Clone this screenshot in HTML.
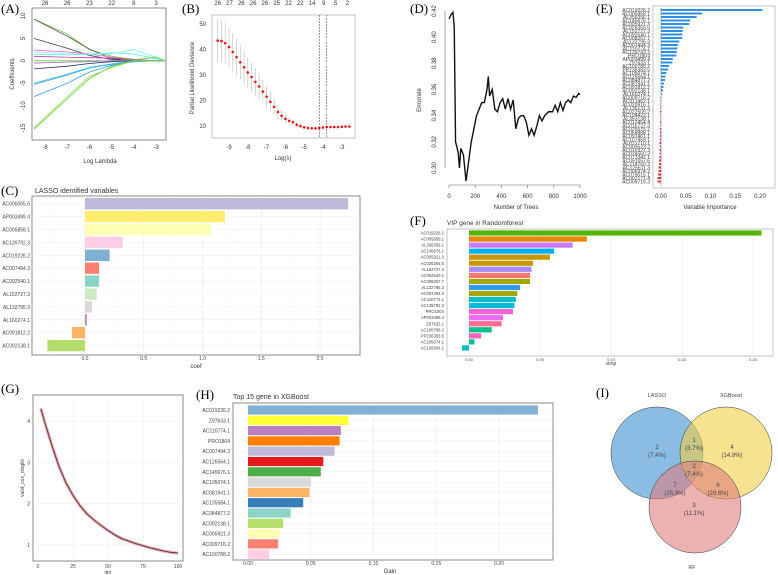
<!DOCTYPE html>
<html><head><meta charset="utf-8"><style>
body{margin:0;background:#fff}
svg{display:block;font-family:"Liberation Sans",sans-serif}
.pl{font-family:"Liberation Serif",serif;font-size:13px}
.t{font-size:5px;fill:#444}
.ax{font-size:6px;fill:#333}
</style></head><body>
<svg id="s" width="778" height="575" viewBox="0 0 778 575">
<g id="gA"></g>
<g id="gB"></g>
<g id="gD"></g>
<g id="gE"></g>
<g id="gC"></g>
<g id="gF"></g>
<g id="gG"></g>
<g id="gH"></g>
<g id="gI"></g>
</svg>
<script>
// ---------- data ----------
const aLambda=[-8.5,-7,-6,-5,-4,-3,-2.6];
const aPaths=[[9.3,6,2.5,1,0.3,0,0],[9.3,5.5,2.6,0.5,0,0,0],[5,2.8,1.2,0.3,0,0,0],[2.4,2,1.5,0.8,0.2,0,0],[2,1.6,1.4,1.6,2.5,0.8,0],[1.5,1.3,1.5,1.8,1.5,0.5,0],[1,0.8,0.7,0.6,0.3,0,0],[0,0,0,0,0.2,0.8,0],[-0.5,-0.3,-0.2,0,0,0,0],[-1.8,-1.2,-0.6,-0.2,0,0,0],[-5.3,-3.2,-1.6,-0.8,0,0,0],[-5,-3,-1.5,-0.7,0,0,0],[-8,-5,-2.5,-1,-0.2,0,0],[-15.3,-8.5,-4,-1.2,0,0,0],[-15,-8,-3.5,-1.5,0,0,0]];
const aColors=["#66cc33","#555555","#444444","#ff66cc","#66ffff","#66eeee","#cc33aa","#66cc33","#aa66cc","#223366","#33aadd","#33bbee","#3399ff","#66cc33","#88dd55"];
const aTop=["26","26","23","22","8","3"];
const bLambda=[-9.6,-9.4,-9.2,-9,-8.8,-8.6,-8.4,-8.2,-8,-7.8,-7.6,-7.4,-7.2,-7,-6.8,-6.6,-6.4,-6.2,-6,-5.8,-5.6,-5.4,-5.2,-5,-4.8,-4.6,-4.4,-4.2,-4,-3.8,-3.6,-3.4,-3.2,-3,-2.8,-2.6];
const bMean=[43.5,43.3,42.5,41,39,37,35,33,31,29.2,27.3,25.5,23.5,21.5,19.5,17.5,15.5,14,12.8,12,11.5,10.5,10,9.5,9.2,9.1,9.1,9.2,9.4,9.6,9.6,9.6,9.6,9.7,9.8,9.8];
const bSd=[8.5,8.3,8,7.8,7.5,7.2,6.8,6.5,6,5.7,5.3,5,4.6,4.2,3.8,3.3,2.8,2.3,1.8,1.4,1.1,0.9,0.7,0.6,0.5,0.5,0.5,0.5,0.5,0.5,0.5,0.5,0.5,0.5,0.5,0.5];
const bTop=["26","27","26","26","26","25","22","22","14","9","5","2"];
const dTrees=[0,20,30,40,50,70,80,90,110,130,150,170,190,210,230,250,270,290,300,310,330,350,370,390,410,430,450,470,490,510,530,550,570,590,610,630,650,670,690,710,730,760,790,810,830,850,870,890,910,930,950,970,990,1000];
const dErr=[.414,.418,.419,.408,.32,.312,.30,.315,.31,.29,.305,.32,.33,.34,.345,.35,.35,.36,.37,.355,.36,.345,.343,.35,.353,.345,.353,.345,.352,.33,.338,.34,.34,.335,.325,.33,.325,.332,.34,.336,.34,.343,.343,.348,.343,.35,.344,.35,.352,.35,.355,.354,.357,.356];
const eGenes=["AC019226.2","AC005858.1","AL356356.1","AC145676.1","AC005921.3","AC026355.5","AL152727.3","AC092540.1","AC008267.7","AL132795.3","AC007494.3","AC110774.1","AC139792.3","PRO1804","AP003499.4","Z97633.1","AC100788.2","PP236383.5","AC105074.1","AC126564.1","AC084877.2","AC081941.1","AC091812.2","AC092138.1","AL160274.1","AC009716.2","AC011462.1","AC020916.1","AL136131.3","AC022509.2","AC104423.1","AL353138.1","AC012454.4","AC016727.3","AC025575.2","AC068888.1","AC097461.1","AC107959.1","AL031710.1","AC005523.2","AC010327.3","AC024560.3","AC073342.1","AC091057.6","AC114760.2","AC125611.3","AC006974.2","AC079015.1","AC092171.4","AC009716.3"];
const eVals=[.205,.083,.072,.059,.057,.045,.044,.043,.043,.037,.034,.033,.032,.031,.024,.023,.016,.014,.011,.009,.008,.006,.005,.004,.002,-.001,-.001,-.001,-.001,-.002,-.001,-.001,-.002,-.001,-.002,-.002,-.002,-.002,-.003,-.002,-.003,-.003,-.003,-.004,-.004,-.005,-.005,-.006,-.007,-.007];
const eTicks=[0,0.05,0.1,0.15,0.2];
const cGenes=["AC006065.6","AP003499.4","AC005858.1","AC139792.3","AC019226.2","AC007494.3","AC092540.1","AL152727.3","AL132795.3","AL160274.1","AC091812.2","AC092138.1"];
const cVals=[2.24,1.19,1.07,0.32,0.21,0.12,0.12,0.10,0.06,0.015,-0.11,-0.32];
const cColors=["#bebada","#ffed6f","#ffffb3","#fccde5","#80b1d3","#fb8072","#8dd3c7","#ccebc5","#d9d9d9","#bc80bd","#fdb462","#b3de69"];
const cTicks=[0,0.5,1,1.5,2];
const fGenes=["AC019226.2","AC005858.1","AL356356.1","AC145676.1","AC005921.3","AC026355.5","AL152727.3","AC092540.1","AC008267.7","AL132795.3","AC007494.3","AC110774.1","AC139792.3","PRO1804","AP003499.4","Z97633.1","AC100788.2","PP236383.5","AC105074.1","AC126564.1"];
const fVals=[.206,.083,.073,.060,.057,.045,.044,.043,.043,.036,.034,.033,.032,.031,.024,.023,.016,.0085,.0038,-.005];
const fColors=["#53b400","#e58700","#c77cff","#00b0f6","#c99800","#c99800","#a58aff","#f8766d","#a3a500","#2e9bf0","#a3a500","#00bfc4","#00bcd8","#fb61d7","#e76bf3","#ff6c91","#00c08b","#ff62bc","#00c08b","#00bfc4"];
const fTicks=[0,0.05,0.1,0.15,0.2];
const gIter=[2,5,10,15,20,25,30,35,40,45,50,55,60,65,70,75,80,85,90,95,100];
const gLoss=[4.3,3.95,3.4,2.9,2.5,2.2,1.95,1.75,1.6,1.47,1.35,1.24,1.15,1.09,1.03,0.98,0.93,0.89,0.85,0.82,0.8];
const hGenes=["AC019226.2","Z97633.1","AC110774.1","PRO1804","AC007494.3","AC126564.1","AC145676.1","AC105074.1","AC081941.1","AC135584.1","AC084877.2","AC092138.1","AC005921.3","AC009716.2","AC100788.2"];
const hVals=[.231,.080,.074,.073,.069,.060,.058,.050,.049,.044,.034,.028,.025,.024,.017];
const hColors=["#80b1d3","#ffff33","#bc80bd","#ff7f00","#bebada","#e41a1c","#4daf4a","#d9d9d9","#fdb462","#377eb8","#8dd3c7","#b3de69","#ffffb3","#fb8072","#fccde5"];
const hTicks=[0,0.05,0.1,0.15,0.2];
const vennSets=["LASSO","XGBoost","RF"];
const vennCounts=["2","1","4","2","7","6","3"];
const vennPct=["(7.4%)","(3.7%)","(14.8%)","(7.4%)","(25.9%)","(29.6%)","(11.1%)"];
// ---------- helpers ----------
const NS="http://www.w3.org/2000/svg";
function mk(p,tag,at,txt){const e=document.createElementNS(NS,tag);for(const k in at)e.setAttribute(k,at[k]);if(txt!==undefined)e.textContent=txt;p.appendChild(e);return e;}
function lab(g,x,y,t,name){const e=mk(g,"text",{x:x,y:y,class:"pl"},t);

}
function box(g,x,y,w,h,name,sw){const e=mk(g,"rect",{x:x,y:y,width:w,height:h,fill:"none",stroke:"#888","stroke-width":sw||1});

}
function txt(g,x,y,t,cls,anchor,name,extra){const e=mk(g,"text",Object.assign({x:x,y:y,class:cls,"text-anchor":anchor||"middle"},extra||{}),t);

return e;}
// ---------- A ----------
(function(){const g=document.getElementById("gA");lab(g,1,13,"(A)","panel-a-label");
const X=v=>45+(v+8)*22.2, Y=v=>16+(10-v)*4.48;
box(g,32,8,134,132,"plot-frame");
[-8,-7,-6,-5,-4,-3].forEach((v,i)=>{txt(g,X(v),149,String(v),"ax","middle","x-tick-label");txt(g,X(v),5,aTop[i],"ax","middle","top-tick-label");});
[10,5,0,-5,-10,-15].forEach(v=>txt(g,25,Y(v),String(v),"ax","middle","y-tick-label",{transform:`rotate(-90 25 ${Y(v)})`}));
txt(g,100,163,"Log Lambda","ax","middle","x-axis-title");
txt(g,14,74,"Coefficients","ax","middle","y-axis-title",{transform:"rotate(-90 14 74)"});
aPaths.forEach((p,i)=>{const e=mk(g,"polyline",{points:p.map((v,j)=>X(aLambda[j])+","+Y(v)).join(" "),fill:"none",stroke:aColors[i],"stroke-width":0.8});

});})();
// ---------- B ----------
(function(){const g=document.getElementById("gB");lab(g,182,13,"(B)","panel-b-label");
const X=v=>229+(v+9)*18.8, Y=v=>24+(50-v)*2.55;
box(g,212,15,143,123,"plot-frame",0.5);
[-9,-8,-7,-6,-5,-4,-3].forEach(v=>txt(g,X(v),149,String(v),"ax","middle","x-tick-label"));
[50,40,30,20,10].forEach(v=>txt(g,206,Y(v)+2,String(v),"ax","end","y-tick-label"));
bTop.forEach((t,i)=>txt(g,X(bLambda[0])+i*((X(-2.7)-X(-9.6))/11),5,t,"ax","middle","top-tick-label"));
txt(g,283,160,"Log(λ)","ax","middle","x-axis-title");
txt(g,194,78,"Partial Likelihood Deviance","ax","middle","y-axis-title",{transform:"rotate(-90 194 78)"});
bLambda.forEach((l,i)=>{const e=mk(g,"line",{x1:X(l),x2:X(l),y1:Y(bMean[i]+bSd[i]),y2:Y(bMean[i]-bSd[i]),stroke:"#bbb","stroke-width":0.6});


const c=mk(g,"circle",{cx:X(l),cy:Y(bMean[i]),r:1.3,fill:"#ee1111"});

});
[-4.2,-3.8].forEach(v=>{const e=mk(g,"line",{x1:X(v),x2:X(v),y1:15,y2:138,stroke:"#444","stroke-width":0.6,"stroke-dasharray":"2,1"});

});})();
// ---------- D ----------
(function(){const g=document.getElementById("gD");lab(g,410,13,"(D)","panel-d-label");
const X=v=>449+v*0.131, Y=v=>11+(0.42-v)/0.12*157;
mk(g,"line",{x1:445,x2:445,y1:11,y2:168,stroke:"#666","stroke-width":0.6});
[0,200,400,600,800,1000].forEach(v=>{txt(g,X(v),198,String(v),"ax","middle","x-tick-label");mk(g,"line",{x1:X(v),x2:X(v),y1:185,y2:188,stroke:"#666","stroke-width":0.6});});
mk(g,"line",{x1:449,x2:580,y1:185,y2:185,stroke:"#666","stroke-width":0.6});
[0.42,0.40,0.38,0.36,0.34,0.32,0.30].forEach(v=>txt(g,436,Y(v),v.toFixed(2),"ax","middle","y-tick-label",{transform:`rotate(-90 436 ${Y(v)})`}));
txt(g,516,209,"Number of Trees","ax","middle","x-axis-title");
txt(g,421,100,"Errorrate","ax","middle","y-axis-title",{transform:"rotate(-90 421 100)"});
const e=mk(g,"polyline",{points:dTrees.map((t,i)=>X(t)+","+Y(dErr[i])).join(" "),fill:"none",stroke:"#111","stroke-width":1.4});

})();
// ---------- E ----------
(function(){const g=document.getElementById("gE");lab(g,596,13,"(E)","panel-e-label");
const X=v=>661+v*495, step=3.5;
box(g,653,6,122,182,"plot-frame",0.5);
mk(g,"line",{x1:661,x2:661,y1:8,y2:186,stroke:"#333","stroke-width":0.6,"stroke-dasharray":"1.5,1"});
eTicks.forEach(v=>txt(g,X(v),198,v.toFixed(2),"ax","middle","x-tick-label"));
txt(g,710,209,"Variable Importance","ax","middle","x-axis-title");
eVals.forEach((v,i)=>{const y=10+i*step;const r=mk(g,"rect",{x:Math.min(X(0),X(v)),y:y-1,width:Math.abs(X(v)-X(0)),height:2,fill:v>=0?"#2f8fe0":"#e03040"});


txt(g,650,y+2,eGenes[i],"t","end","gene-label",{style:"font-size:5px"});});})();
// ---------- C ----------
(function(){const g=document.getElementById("gC");lab(g,1,195,"(C)","panel-c-label");
txt(g,35,193,"LASSO identified variables","ax","start","chart-title",{style:"font-size:7px"});
const X=v=>85+v*117.5;
box(g,32,196,328,159,"plot-frame");
cTicks.forEach(v=>{mk(g,"line",{x1:X(v),x2:X(v),y1:196,y2:355,stroke:"#e6e6e6","stroke-width":0.5});txt(g,X(v),360,v.toFixed(1),"t","middle","x-tick-label");});
[-0.25,0.25,0.75,1.25,1.75].forEach(v=>mk(g,"line",{x1:X(v),x2:X(v),y1:196,y2:355,stroke:"#f2f2f2","stroke-width":0.4}));
txt(g,196,368,"coef","ax","middle","x-axis-title");
cVals.forEach((v,i)=>{const y=203.7+i*12.9;
mk(g,"line",{x1:32,x2:360,y1:y,y2:y,stroke:"#eee","stroke-width":0.5});
const r=mk(g,"rect",{x:Math.min(X(0),X(v)),y:y-5.7,width:Math.abs(X(v)-X(0)),height:11.4,fill:cColors[i]});


txt(g,30,y+2,cGenes[i],"t","end","gene-label");});})();
// ---------- F ----------
(function(){const g=document.getElementById("gF");lab(g,410,225,"(F)","panel-f-label");
txt(g,447,225,"VIP gene in Randomforest","ax","start","chart-title",{style:"font-size:6.5px"});
const X=v=>469+v*1420;
box(g,447,229,326,127,"plot-frame",0.5);
fTicks.forEach(v=>{mk(g,"line",{x1:X(v),x2:X(v),y1:229,y2:356,stroke:"#e6e6e6","stroke-width":0.5});txt(g,X(v),361,v.toFixed(2),"t","middle","x-tick-label",{style:"font-size:4px"});});
txt(g,611,365,"vimp","t","middle","x-axis-title");
fVals.forEach((v,i)=>{const y=233+i*6.05;
const r=mk(g,"rect",{x:Math.min(X(0),X(v)),y:y-2.6,width:Math.abs(X(v)-X(0)),height:5.2,fill:fColors[i]});


txt(g,444,y+1.5,fGenes[i],"t","end","gene-label",{style:"font-size:4.2px"});});})();
// ---------- G ----------
(function(){const g=document.getElementById("gG");lab(g,1,393,"(G)","panel-g-label");
const X=v=>38+v*1.4, Y=v=>421+(4-v)*41.3;
box(g,33,395,150,166,"plot-frame");
[0,25,50,75,100].forEach(v=>{mk(g,"line",{x1:X(v),x2:X(v),y1:395,y2:561,stroke:"#eee","stroke-width":0.5});txt(g,X(v),568,String(v),"t","middle","x-tick-label");});
[1,2,3,4].forEach(v=>{mk(g,"line",{x1:33,x2:183,y1:Y(v),y2:Y(v),stroke:"#eee","stroke-width":0.5});txt(g,30,Y(v)+2,String(v),"t","end","y-tick-label");});
txt(g,108,574,"iter","t","middle","x-axis-title");
txt(g,24,478,"valid_cox_nloglik","t","middle","y-axis-title",{transform:"rotate(-90 24 478)"});
const pts=gIter.map((t,i)=>X(t)+","+Y(gLoss[i])).join(" ");
mk(g,"polyline",{points:pts,fill:"none",stroke:"#f4a0a8","stroke-width":3});
const e=mk(g,"polyline",{points:pts,fill:"none",stroke:"#333","stroke-width":0.8});

})();
// ---------- H ----------
(function(){const g=document.getElementById("gH");lab(g,196,399,"(H)","panel-h-label");
txt(g,233,399,"Top 15 gene in XGBoost","ax","start","chart-title",{style:"font-size:7px"});
const X=v=>248+v*1255;
box(g,233,403,320,157,"plot-frame");
hTicks.forEach(v=>{mk(g,"line",{x1:X(v),x2:X(v),y1:403,y2:560,stroke:"#e6e6e6","stroke-width":0.5});txt(g,X(v),565,v.toFixed(2),"t","middle","x-tick-label");});
txt(g,390,573,"Gain","ax","middle","x-axis-title");
hVals.forEach((v,i)=>{const y=410+i*10.3;
mk(g,"line",{x1:233,x2:553,y1:y,y2:y,stroke:"#eee","stroke-width":0.5});
const r=mk(g,"rect",{x:X(0),y:y-4.6,width:X(v)-X(0),height:9.2,fill:hColors[i]});


txt(g,230,y+2,hGenes[i],"t","end","gene-label");});})();
// ---------- I ----------
(function(){const g=document.getElementById("gI");lab(g,596,397,"(I)","panel-i-label");
const C=[[657,453,"#3d8fd0"],[726,453,"#f2cf45"],[695,507,"#e07f7f"]];
C.forEach((c,i)=>{const e=mk(g,"circle",{cx:c[0],cy:c[1],r:46,fill:c[2],"fill-opacity":0.6,stroke:"#333","stroke-width":0.5});

});
txt(g,657,397,vennSets[0],"t","middle","set-label",{style:"font-size:5.5px"});
txt(g,731,397,vennSets[1],"t","middle","set-label",{style:"font-size:5.5px"});
txt(g,692,569,vennSets[2],"t","middle","set-label",{style:"font-size:5.5px"});
const P=[[657,449],[694,442],[732,449],[694,468],[675,487],[718,487],[694,507]];
P.forEach((p,i)=>{txt(g,p[0],p[1],vennCounts[i],"t","middle","region-count",{style:"font-size:6px"});txt(g,p[0],p[1]+8,vennPct[i],"t","middle","region-percent",{style:"font-size:6px"});});})();
</script>
</body></html>
